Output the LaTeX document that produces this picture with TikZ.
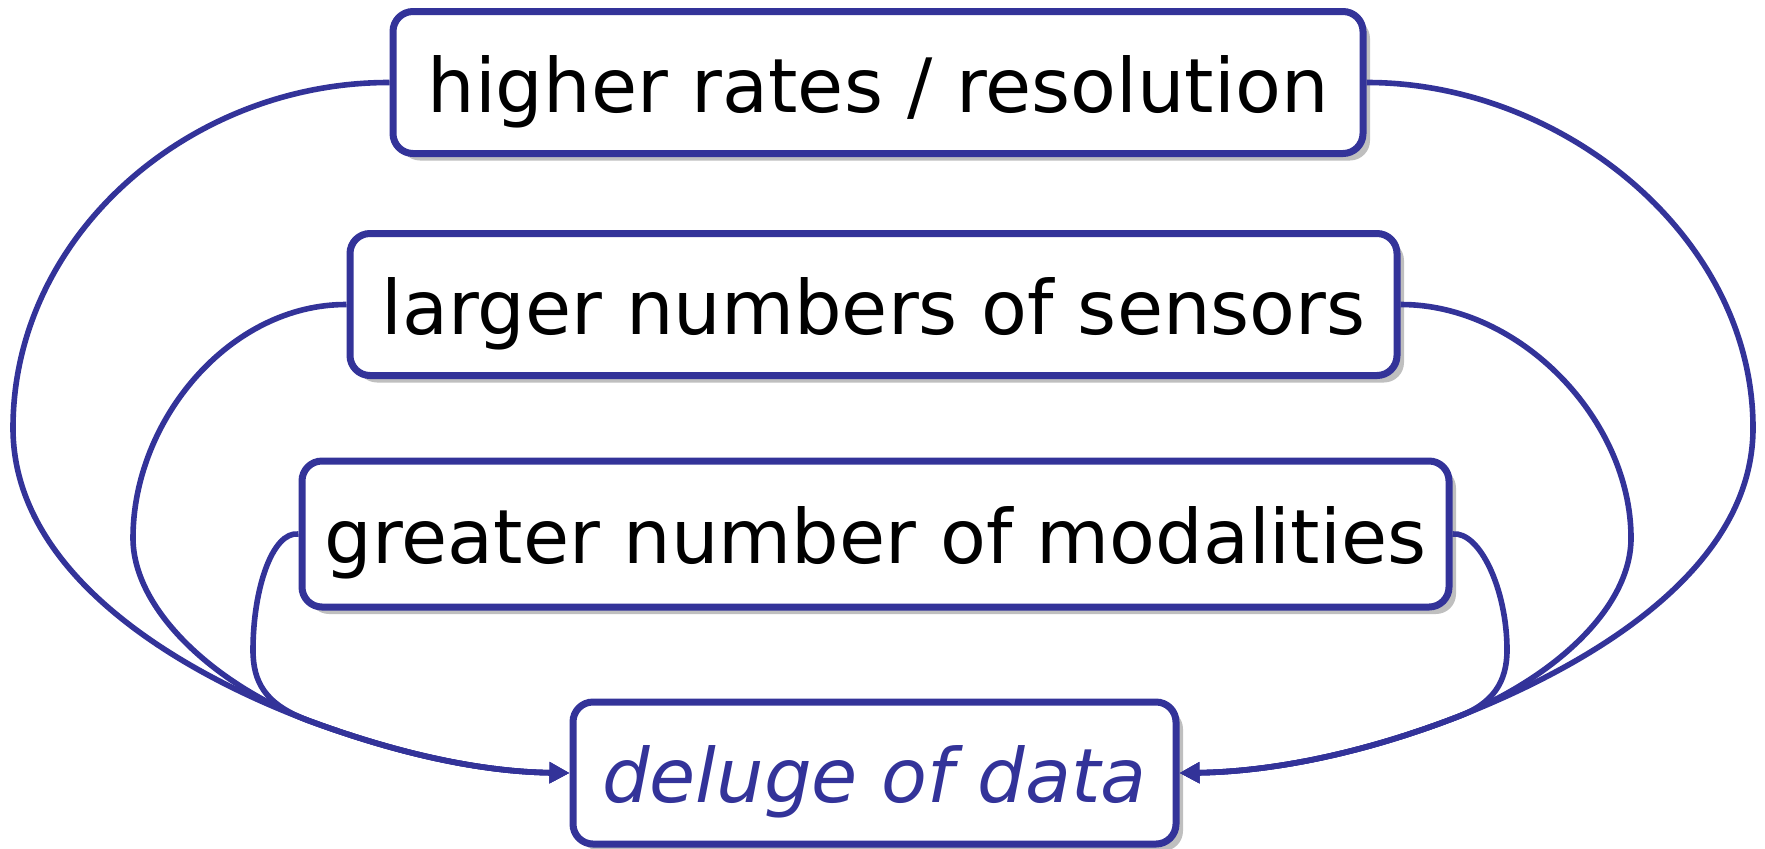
\documentclass[tikz,border=0pt]{standalone}
\usepackage{fontspec}
\setmainfont{DejaVu Sans}
\usetikzlibrary{arrows.meta,shadows}
\definecolor{dblue}{RGB}{51,51,153}
\tikzset{
  box/.style={draw=dblue, line width=3.5pt, fill=white, rounded corners=10pt,
    inner sep=0pt, text height=40pt, text depth=10.5pt, minimum height=71pt,
    font=\fontsize{37.5}{45}\selectfont,
    general shadow={fill=black!25, shadow xshift=3.5pt, shadow yshift=-3.5pt}},
  conn/.style={draw=dblue, line width=2.8pt, -{Triangle[length=10pt,width=10pt]}}
}
\begin{document}
\begin{tikzpicture}[x=0.5pt,y=-0.5pt]
\useasboundingbox (0,0) rectangle (1765,848);
\node[box, minimum width=485pt] (h) at (878,82.5) {higher rates / resolution};
\node[box, minimum width=523.5pt] (s) at (873.5,304.5) {larger numbers of sensors};
\node[box, minimum width=573.5pt, minimum height=73pt] (m) at (875.5,534) {greater number of modalities};
\node[box, minimum width=301.5pt, text=dblue, font=\fontsize{37.5}{45}\selectfont\itshape] (d) at (874.5,773) {deluge of data};
\coordinate (lj) at (307,720);
\coordinate (rj) at (1457,717);
% left side
\draw[conn] (h.west) .. controls (190,82) and (13,235) .. (13,428)
  .. controls (13,570) and (170,668) .. (lj)
  .. controls (420,762) and (500,772) .. (d.west);
\draw[conn] (s.west) .. controls (230,304) and (133,420) .. (133,538)
  .. controls (133,610) and (215,684) .. (lj)
  .. controls (420,762) and (500,772) .. (d.west);
\draw[conn] (m.west) .. controls (272,531) and (253,590) .. (253,650)
  .. controls (253,682) and (265,704) .. (lj)
  .. controls (420,762) and (500,772) .. (d.west);
% right side
\draw[conn] (h.east) .. controls (1560,82) and (1753,235) .. (1753,428)
  .. controls (1753,570) and (1590,665) .. (rj)
  .. controls (1340,762) and (1250,772) .. (d.east);
\draw[conn] (s.east) .. controls (1520,304) and (1631,420) .. (1631,538)
  .. controls (1631,610) and (1550,680) .. (rj)
  .. controls (1340,762) and (1250,772) .. (d.east);
\draw[conn] (m.east) .. controls (1480,531) and (1507,590) .. (1507,650)
  .. controls (1507,682) and (1493,704) .. (rj)
  .. controls (1340,762) and (1250,772) .. (d.east);
\end{tikzpicture}
\end{document}
